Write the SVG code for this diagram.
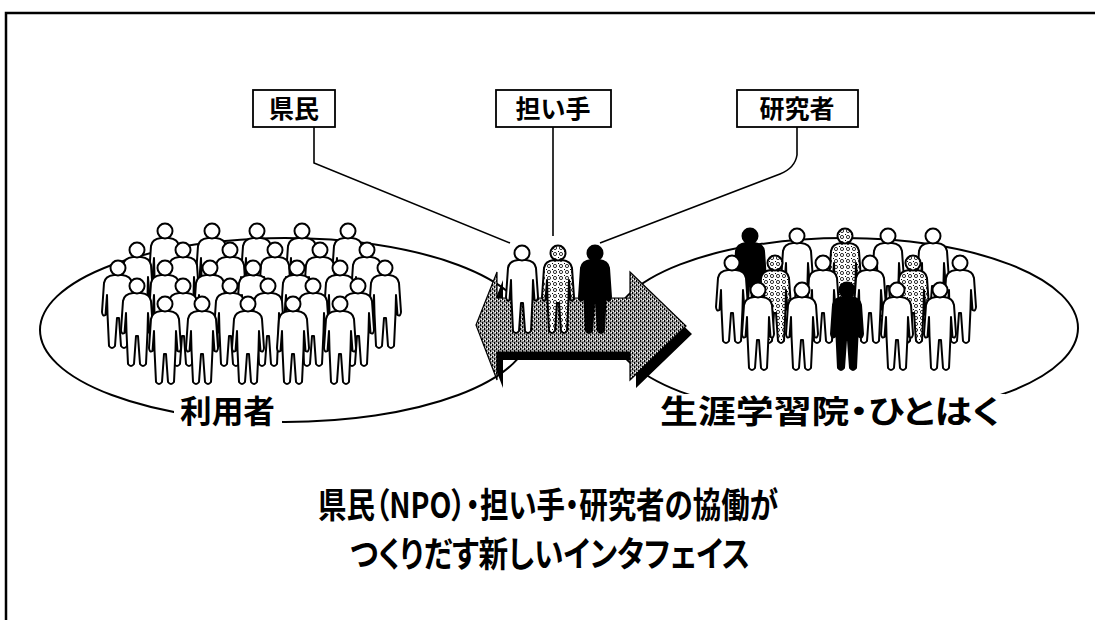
<svg xmlns="http://www.w3.org/2000/svg" xmlns:xlink="http://www.w3.org/1999/xlink" width="1095" height="620" viewBox="0 0 1095 620">
  <style>
    .frame { fill: none; stroke: #000; stroke-width: 2.5; }
    .ring { fill: none; stroke: #000; stroke-width: 2; }
    .box { fill: #fff; stroke: #000; stroke-width: 1.8; }
    .link { fill: none; stroke: #000; stroke-width: 1.6; }
    .jp { font-family: "Noto Sans CJK JP", "Noto Sans", sans-serif; font-weight: 700; fill: #000; }
    .palt { font-feature-settings: "palt"; }
    .tag { font-size: 25px; text-anchor: middle; }
    .lbl { font-size: 32px; }
    .cap { font-size: 35px; }
    .w { fill: #fff; stroke: #000; stroke-width: 2; stroke-linejoin: round; }
    .b { fill: #000; stroke: #000; stroke-width: 2; stroke-linejoin: round; }
    .a { fill: url(#anat); stroke: #000; stroke-width: 2; stroke-linejoin: round; }
  </style>
  <defs>
    <!-- dithered grey for the arrow face -->
    <pattern id="dith" width="4" height="4" patternUnits="userSpaceOnUse">
      <rect width="4" height="4" fill="#9c9c9c"/>
      <rect x="0" y="0" width="1" height="2" fill="#000"/>
      <rect x="2" y="2" width="1" height="2" fill="#000"/>
      <rect x="3" y="0" width="1" height="1" fill="#fff"/>
      <rect x="1" y="3" width="1" height="1" fill="#fff"/>
    </pattern>
    <!-- scribbled interior of the see-through figures -->
    <pattern id="anat" width="6" height="6" patternUnits="userSpaceOnUse">
      <rect width="6" height="6" fill="#fff"/>
      <circle cx="3" cy="3" r="1.6" fill="none" stroke="#000" stroke-width="0.8"/>
      <rect x="0" y="0" width="1" height="1" fill="#000"/>
    </pattern>
    <!-- standing figure; origin at top of head -->
    <symbol id="person" overflow="visible">
      <path d="M -4,15 Q -13,16 -14,23 L -16,52 Q -15.5,57 -12.5,55 L -11,35 L -10.5,54 L -9,86 Q -6,90 -3,86 L -1,58 L 1,58 L 3,86 Q 6,90 9,86 L 10.5,54 L 11,35 L 12.5,55 Q 15.5,57 16,52 L 14,23 Q 13,16 4,15 Z"/>
      <circle cx="0" cy="8" r="7.5"/>
    </symbol>
  </defs>

  <rect width="1095" height="620" fill="#fff"/>
  <!-- outer frame (top and left edges) -->
  <path class="frame" d="M 6,620 L 6,13 L 1100,13"/>

  <!-- group outlines -->
  <g id="rings">
    <ellipse class="ring" cx="285" cy="330" rx="245" ry="92"/>
    <ellipse class="ring" cx="845" cy="328" rx="233" ry="90"/>
  </g>

  <!-- connectors from the role boxes -->
  <g id="connectors">
    <path class="link" d="M 314,127 L 314,163 L 510,243"/>
    <path class="link" d="M 553,127 L 553,236"/>
    <path class="link" d="M 797,127 L 797,155 Q 795,168 780,174 L 600,243"/>
  </g>

  <g id="node-kenmin">
    <rect class="box" x="253" y="90" width="82" height="37"/>
    <text class="jp tag" x="294" y="118">県民</text>
  </g>
  <g id="node-ninaite">
    <rect class="box" x="496" y="90" width="115" height="37"/>
    <text class="jp tag" x="553" y="118">担い手</text>
  </g>
  <g id="node-kenkyusha">
    <rect class="box" x="737" y="90" width="121" height="37"/>
    <text class="jp tag" x="797" y="118">研究者</text>
  </g>

  <!-- users crowd -->
  <g id="node-users">
    <use href="#person" class="w" x="165" y="223"/>
    <use href="#person" class="w" x="212" y="223"/>
    <use href="#person" class="w" x="257" y="223"/>
    <use href="#person" class="w" x="302" y="223"/>
    <use href="#person" class="w" x="348" y="223"/>
    <use href="#person" class="w" x="137" y="242"/>
    <use href="#person" class="w" x="183" y="242"/>
    <use href="#person" class="w" x="230" y="242"/>
    <use href="#person" class="w" x="275" y="242"/>
    <use href="#person" class="w" x="320" y="242"/>
    <use href="#person" class="w" x="367" y="242"/>
    <use href="#person" class="w" x="118" y="260"/>
    <use href="#person" class="w" x="165" y="260"/>
    <use href="#person" class="w" x="210" y="260"/>
    <use href="#person" class="w" x="253" y="260"/>
    <use href="#person" class="w" x="297" y="260"/>
    <use href="#person" class="w" x="340" y="260"/>
    <use href="#person" class="w" x="385" y="260"/>
    <use href="#person" class="w" x="137" y="278"/>
    <use href="#person" class="w" x="183" y="278"/>
    <use href="#person" class="w" x="230" y="278"/>
    <use href="#person" class="w" x="268" y="278"/>
    <use href="#person" class="w" x="313" y="278"/>
    <use href="#person" class="w" x="358" y="278"/>
    <use href="#person" class="w" x="165" y="296"/>
    <use href="#person" class="w" x="202" y="296"/>
    <use href="#person" class="w" x="248" y="296"/>
    <use href="#person" class="w" x="293" y="296"/>
    <use href="#person" class="w" x="340" y="296"/>
  </g>

  <!-- museum crowd -->
  <g id="node-museum">
    <use href="#person" class="b" x="750" y="228"/>
    <use href="#person" class="w" x="797" y="228"/>
    <use href="#person" class="a" x="845" y="228"/>
    <use href="#person" class="w" x="888" y="228"/>
    <use href="#person" class="w" x="933" y="228"/>
    <use href="#person" class="w" x="732" y="255"/>
    <use href="#person" class="a" x="775" y="255"/>
    <use href="#person" class="w" x="823" y="255"/>
    <use href="#person" class="w" x="870" y="255"/>
    <use href="#person" class="a" x="913" y="255"/>
    <use href="#person" class="w" x="960" y="255"/>
    <use href="#person" class="w" x="758" y="282"/>
    <use href="#person" class="w" x="802" y="282"/>
    <use href="#person" class="b" x="847" y="282"/>
    <use href="#person" class="w" x="897" y="282"/>
    <use href="#person" class="w" x="940" y="282"/>
  </g>

  <!-- two-way arrow with the three actors standing on it -->
  <g id="node-bridge">
    <path fill="#000" d="M 482,333 L 503,280 L 503,306 L 636,306 L 636,280 L 692,334 L 636,388 L 636,360 L 503,360 L 503,388 Z"/>
    <path fill="url(#dith)" stroke="#000" stroke-width="1.2" d="M 476,325 L 497,272 L 497,298 L 630,298 L 630,272 L 686,326 L 630,380 L 630,352 L 497,352 L 497,380 Z"/>
    <use href="#person" class="w" x="522" y="245"/>
    <use href="#person" class="a" x="558" y="245"/>
    <use href="#person" class="b" x="595" y="245"/>
  </g>

  <g id="label-users">
    <rect x="174" y="394" width="108" height="36" fill="#fff"/>
    <text class="jp lbl" x="180" y="423" textLength="95" lengthAdjust="spacingAndGlyphs">利用者</text>
  </g>
  <g id="label-museum">
    <rect x="655" y="394" width="350" height="36" fill="#fff"/>
    <text class="jp lbl palt" x="660" y="423" textLength="340" lengthAdjust="spacingAndGlyphs">生涯学習院・ひとはく</text>
  </g>

  <g id="caption">
    <text class="jp cap palt" x="318" y="518" textLength="460" lengthAdjust="spacingAndGlyphs">県民（NPO）・担い手・研究者の協働が</text>
    <text class="jp cap palt" x="350" y="567" textLength="400" lengthAdjust="spacingAndGlyphs">つくりだす新しいインタフェイス</text>
  </g>
</svg>
